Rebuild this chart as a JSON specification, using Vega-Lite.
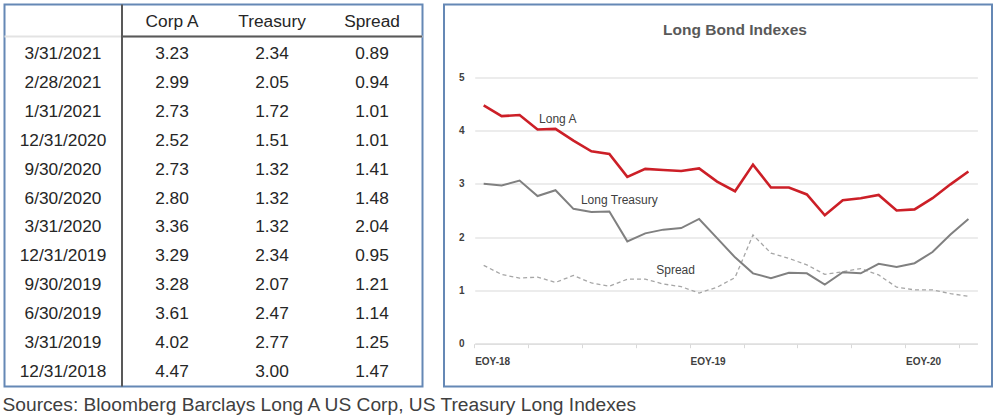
{
  "$schema": "https://vega.github.io/schema/vega-lite/v6.json",
  "padding": {"left": 2.5, "top": 2.5, "right": 3, "bottom": 4},
  "spacing": 18.5,
  "datasets": {
    "table": [
      {"date": "3/31/2021", "Corp A": 3.23, "Treasury": 2.34, "Spread": 0.89},
      {"date": "2/28/2021", "Corp A": 2.99, "Treasury": 2.05, "Spread": 0.94},
      {"date": "1/31/2021", "Corp A": 2.73, "Treasury": 1.72, "Spread": 1.01},
      {"date": "12/31/2020", "Corp A": 2.52, "Treasury": 1.51, "Spread": 1.01},
      {"date": "9/30/2020", "Corp A": 2.73, "Treasury": 1.32, "Spread": 1.41},
      {"date": "6/30/2020", "Corp A": 2.80, "Treasury": 1.32, "Spread": 1.48},
      {"date": "3/31/2020", "Corp A": 3.36, "Treasury": 1.32, "Spread": 2.04},
      {"date": "12/31/2019", "Corp A": 3.29, "Treasury": 2.34, "Spread": 0.95},
      {"date": "9/30/2019", "Corp A": 3.28, "Treasury": 2.07, "Spread": 1.21},
      {"date": "6/30/2019", "Corp A": 3.61, "Treasury": 2.47, "Spread": 1.14},
      {"date": "3/31/2019", "Corp A": 4.02, "Treasury": 2.77, "Spread": 1.25},
      {"date": "12/31/2018", "Corp A": 4.47, "Treasury": 3.00, "Spread": 1.47}
    ],
    "monthly": [
      {"month": "2018-12", "A": 4.47, "T": 3.00, "S": 1.47},
      {"month": "2019-01", "A": 4.27, "T": 2.97, "S": 1.30},
      {"month": "2019-02", "A": 4.29, "T": 3.06, "S": 1.23},
      {"month": "2019-03", "A": 4.02, "T": 2.77, "S": 1.25},
      {"month": "2019-04", "A": 4.03, "T": 2.88, "S": 1.15},
      {"month": "2019-05", "A": 3.81, "T": 2.53, "S": 1.28},
      {"month": "2019-06", "A": 3.61, "T": 2.47, "S": 1.14},
      {"month": "2019-07", "A": 3.56, "T": 2.48, "S": 1.08},
      {"month": "2019-08", "A": 3.13, "T": 1.92, "S": 1.21},
      {"month": "2019-09", "A": 3.28, "T": 2.07, "S": 1.21},
      {"month": "2019-10", "A": 3.26, "T": 2.14, "S": 1.12},
      {"month": "2019-11", "A": 3.24, "T": 2.17, "S": 1.07},
      {"month": "2019-12", "A": 3.29, "T": 2.34, "S": 0.95},
      {"month": "2020-01", "A": 3.04, "T": 1.98, "S": 1.06},
      {"month": "2020-02", "A": 2.86, "T": 1.62, "S": 1.24},
      {"month": "2020-03", "A": 3.36, "T": 1.32, "S": 2.04},
      {"month": "2020-04", "A": 2.93, "T": 1.23, "S": 1.70},
      {"month": "2020-05", "A": 2.93, "T": 1.33, "S": 1.60},
      {"month": "2020-06", "A": 2.80, "T": 1.32, "S": 1.48},
      {"month": "2020-07", "A": 2.41, "T": 1.11, "S": 1.30},
      {"month": "2020-08", "A": 2.69, "T": 1.34, "S": 1.35},
      {"month": "2020-09", "A": 2.73, "T": 1.32, "S": 1.41},
      {"month": "2020-10", "A": 2.79, "T": 1.50, "S": 1.29},
      {"month": "2020-11", "A": 2.50, "T": 1.44, "S": 1.06},
      {"month": "2020-12", "A": 2.52, "T": 1.51, "S": 1.01},
      {"month": "2021-01", "A": 2.73, "T": 1.72, "S": 1.01},
      {"month": "2021-02", "A": 2.99, "T": 2.05, "S": 0.94},
      {"month": "2021-03", "A": 3.23, "T": 2.34, "S": 0.89}
    ],
    "labels": [
      {"label": "Long A", "month": "2019-03", "value": 4.22},
      {"label": "Long Treasury", "month": "2019-05", "value": 2.69},
      {"label": "Spread", "month": "2019-10", "value": 1.38}
    ]
  },
  "title": {
    "text": "Sources: Bloomberg Barclays Long A US Corp, US Treasury Long Indexes",
    "orient": "bottom",
    "anchor": "start",
    "fontSize": 19.2,
    "fontWeight": "normal",
    "font": "Liberation Sans",
    "color": "#404040",
    "offset": 7
  },
  "hconcat": [
    {
      "width": 418,
      "height": 382,
      "data": {"name": "table"},
      "layer": [
        {
          "transform": [{"fold": ["Corp A", "Treasury", "Spread"], "as": ["key", "value"]}],
          "mark": {"type": "text", "fontSize": 17.3, "font": "Liberation Sans", "color": "#262626", "baseline": "middle"},
          "encoding": {
            "x": {"field": "key", "type": "nominal", "axis": null,
                  "scale": {"type": "band", "domain": ["Date", "Corp A", "Treasury", "Spread"], "range": [17.5, 417.5], "paddingInner": 0, "paddingOuter": 0}},
            "y": {"field": "date", "type": "nominal", "axis": null, "sort": null,
                  "scale": {"type": "band", "domain": ["Header", "3/31/2021", "2/28/2021", "1/31/2021", "12/31/2020", "9/30/2020", "6/30/2020", "3/31/2020", "12/31/2019", "9/30/2019", "6/30/2019", "3/31/2019", "12/31/2018"], "range": [5.9, 382.1], "paddingInner": 0, "paddingOuter": 0}},
            "text": {"field": "value", "type": "quantitative", "format": ".2f"}
          }
        },
        {
          "mark": {"type": "text", "fontSize": 17.3, "font": "Liberation Sans", "color": "#262626", "baseline": "middle", "dx": -9},
          "encoding": {
            "x": {"datum": "Date"},
            "y": {"field": "date", "type": "nominal"},
            "text": {"field": "date"}
          }
        },
        {
          "transform": [
            {"fold": ["Corp A", "Treasury", "Spread"], "as": ["key", "value"]},
            {"filter": "datum.date === '3/31/2021'"}
          ],
          "mark": {"type": "text", "fontSize": 17.3, "font": "Liberation Sans", "color": "#262626", "baseline": "middle", "dy": -3},
          "encoding": {
            "x": {"field": "key", "type": "nominal"},
            "y": {"datum": "Header"},
            "text": {"field": "key"}
          }
        },
        {
          "transform": [{"filter": "datum.date === '3/31/2021'"}],
          "mark": {"type": "rule", "color": "#E3E3E3", "strokeWidth": 2},
          "encoding": {
            "y": {"datum": "Header", "bandPosition": 0.9}
          }
        },
        {
          "transform": [{"filter": "datum.date === '3/31/2021'"}],
          "mark": {"type": "rule", "color": "#595959", "strokeWidth": 2},
          "encoding": {
            "x": {"datum": "Corp A", "bandPosition": 0},
            "x2": {"datum": "Spread", "bandPosition": 1},
            "y": {"datum": "Header", "bandPosition": 0.9}
          }
        },
        {
          "transform": [{"filter": "datum.date === '3/31/2021'"}],
          "mark": {"type": "rule", "color": "#595959", "strokeWidth": 2},
          "encoding": {
            "x": {"datum": "Corp A", "bandPosition": 0}
          }
        }
      ]
    },
    {
      "width": 548,
      "height": 382,
      "title": {
        "text": "Long Bond Indexes",
        "anchor": "middle",
        "frame": "group",
        "offset": -34,
        "dx": 17,
        "fontSize": 15.5,
        "fontWeight": "bold",
        "font": "Liberation Sans",
        "color": "#595959"
      },
      "layer": [
        {
          "data": {"name": "monthly"},
          "mark": {"type": "line", "color": "#A6A6A6", "strokeWidth": 1.3, "strokeDash": [4, 3]},
          "encoding": {
            "x": {"field": "month", "type": "ordinal", "bandPosition": 0.5,
                  "scale": {"type": "band", "range": [30.7, 533.4], "paddingInner": 0, "paddingOuter": 0},
                  "axis": {
                    "orient": "bottom",
                    "offset": -42.8,
                    "title": null,
                    "grid": false,
                    "bandPosition": 0,
                    "values": ["2018-12", "2019-03", "2019-06", "2019-09", "2019-12", "2020-03", "2020-06", "2020-09", "2020-12", "2021-03"],
                    "labelExpr": "datum.value === '2018-12' ? 'EOY-18' : datum.value === '2019-12' ? 'EOY-19' : datum.value === '2020-12' ? 'EOY-20' : ''",
                    "labelOffset": 9,
                    "labelAlign": "center",
                    "labelAngle": 0,
                    "labelOverlap": false,
                    "labelPadding": 9,
                    "labelFontSize": 10,
                    "labelFontWeight": "bold",
                    "labelFont": "Liberation Sans",
                    "labelColor": "#404040",
                    "domainColor": "#D9D9D9",
                    "tickColor": "#D9D9D9",
                    "tickSize": 4
                  }},
            "y": {"field": "S", "type": "quantitative",
                  "scale": {"domain": [0, 5], "range": [339.2, 72.7], "nice": false, "zero": true},
                  "axis": {
                    "orient": "left",
                    "offset": -22,
                    "title": null,
                    "values": [0, 1, 2, 3, 4, 5],
                    "format": "d",
                    "domain": false,
                    "ticks": false,
                    "tickSize": 0,
                    "labelPadding": 2,
                    "labelFontSize": 10,
                    "labelFontWeight": "bold",
                    "labelFont": "Liberation Sans",
                    "labelColor": "#404040",
                    "grid": true,
                    "gridColor": "#D9D9D9",
                    "gridWidth": 1
                  }}
          }
        },
        {
          "data": {"name": "monthly"},
          "mark": {"type": "line", "color": "#808080", "strokeWidth": 2},
          "encoding": {
            "x": {"field": "month", "type": "ordinal", "bandPosition": 0.5},
            "y": {"field": "T", "type": "quantitative"}
          }
        },
        {
          "data": {"name": "monthly"},
          "mark": {"type": "line", "color": "#CC1F27", "strokeWidth": 2.6},
          "encoding": {
            "x": {"field": "month", "type": "ordinal", "bandPosition": 0.5},
            "y": {"field": "A", "type": "quantitative"}
          }
        },
        {
          "data": {"name": "labels"},
          "transform": [{"filter": "datum.label === 'Long A'"}],
          "mark": {"type": "text", "align": "left", "baseline": "middle", "dx": 1.5, "fontSize": 12, "font": "Liberation Sans", "color": "#404040"},
          "encoding": {
            "x": {"field": "month", "type": "ordinal", "bandPosition": 0.5},
            "y": {"field": "value", "type": "quantitative"},
            "text": {"field": "label"}
          }
        },
        {
          "data": {"name": "labels"},
          "transform": [{"filter": "datum.label === 'Long Treasury'"}],
          "mark": {"type": "text", "align": "left", "baseline": "middle", "dx": 7.5, "fontSize": 12, "font": "Liberation Sans", "color": "#404040"},
          "encoding": {
            "x": {"field": "month", "type": "ordinal", "bandPosition": 0.5},
            "y": {"field": "value", "type": "quantitative"},
            "text": {"field": "label"}
          }
        },
        {
          "data": {"name": "labels"},
          "transform": [{"filter": "datum.label === 'Spread'"}],
          "mark": {"type": "text", "align": "left", "baseline": "middle", "dx": -7, "fontSize": 12, "font": "Liberation Sans", "color": "#404040"},
          "encoding": {
            "x": {"field": "month", "type": "ordinal", "bandPosition": 0.5},
            "y": {"field": "value", "type": "quantitative"},
            "text": {"field": "label"}
          }
        }
      ]
    }
  ],
  "config": {
    "view": {"stroke": "#6588B5", "strokeWidth": 2},
    "font": "Liberation Sans"
  }
}
